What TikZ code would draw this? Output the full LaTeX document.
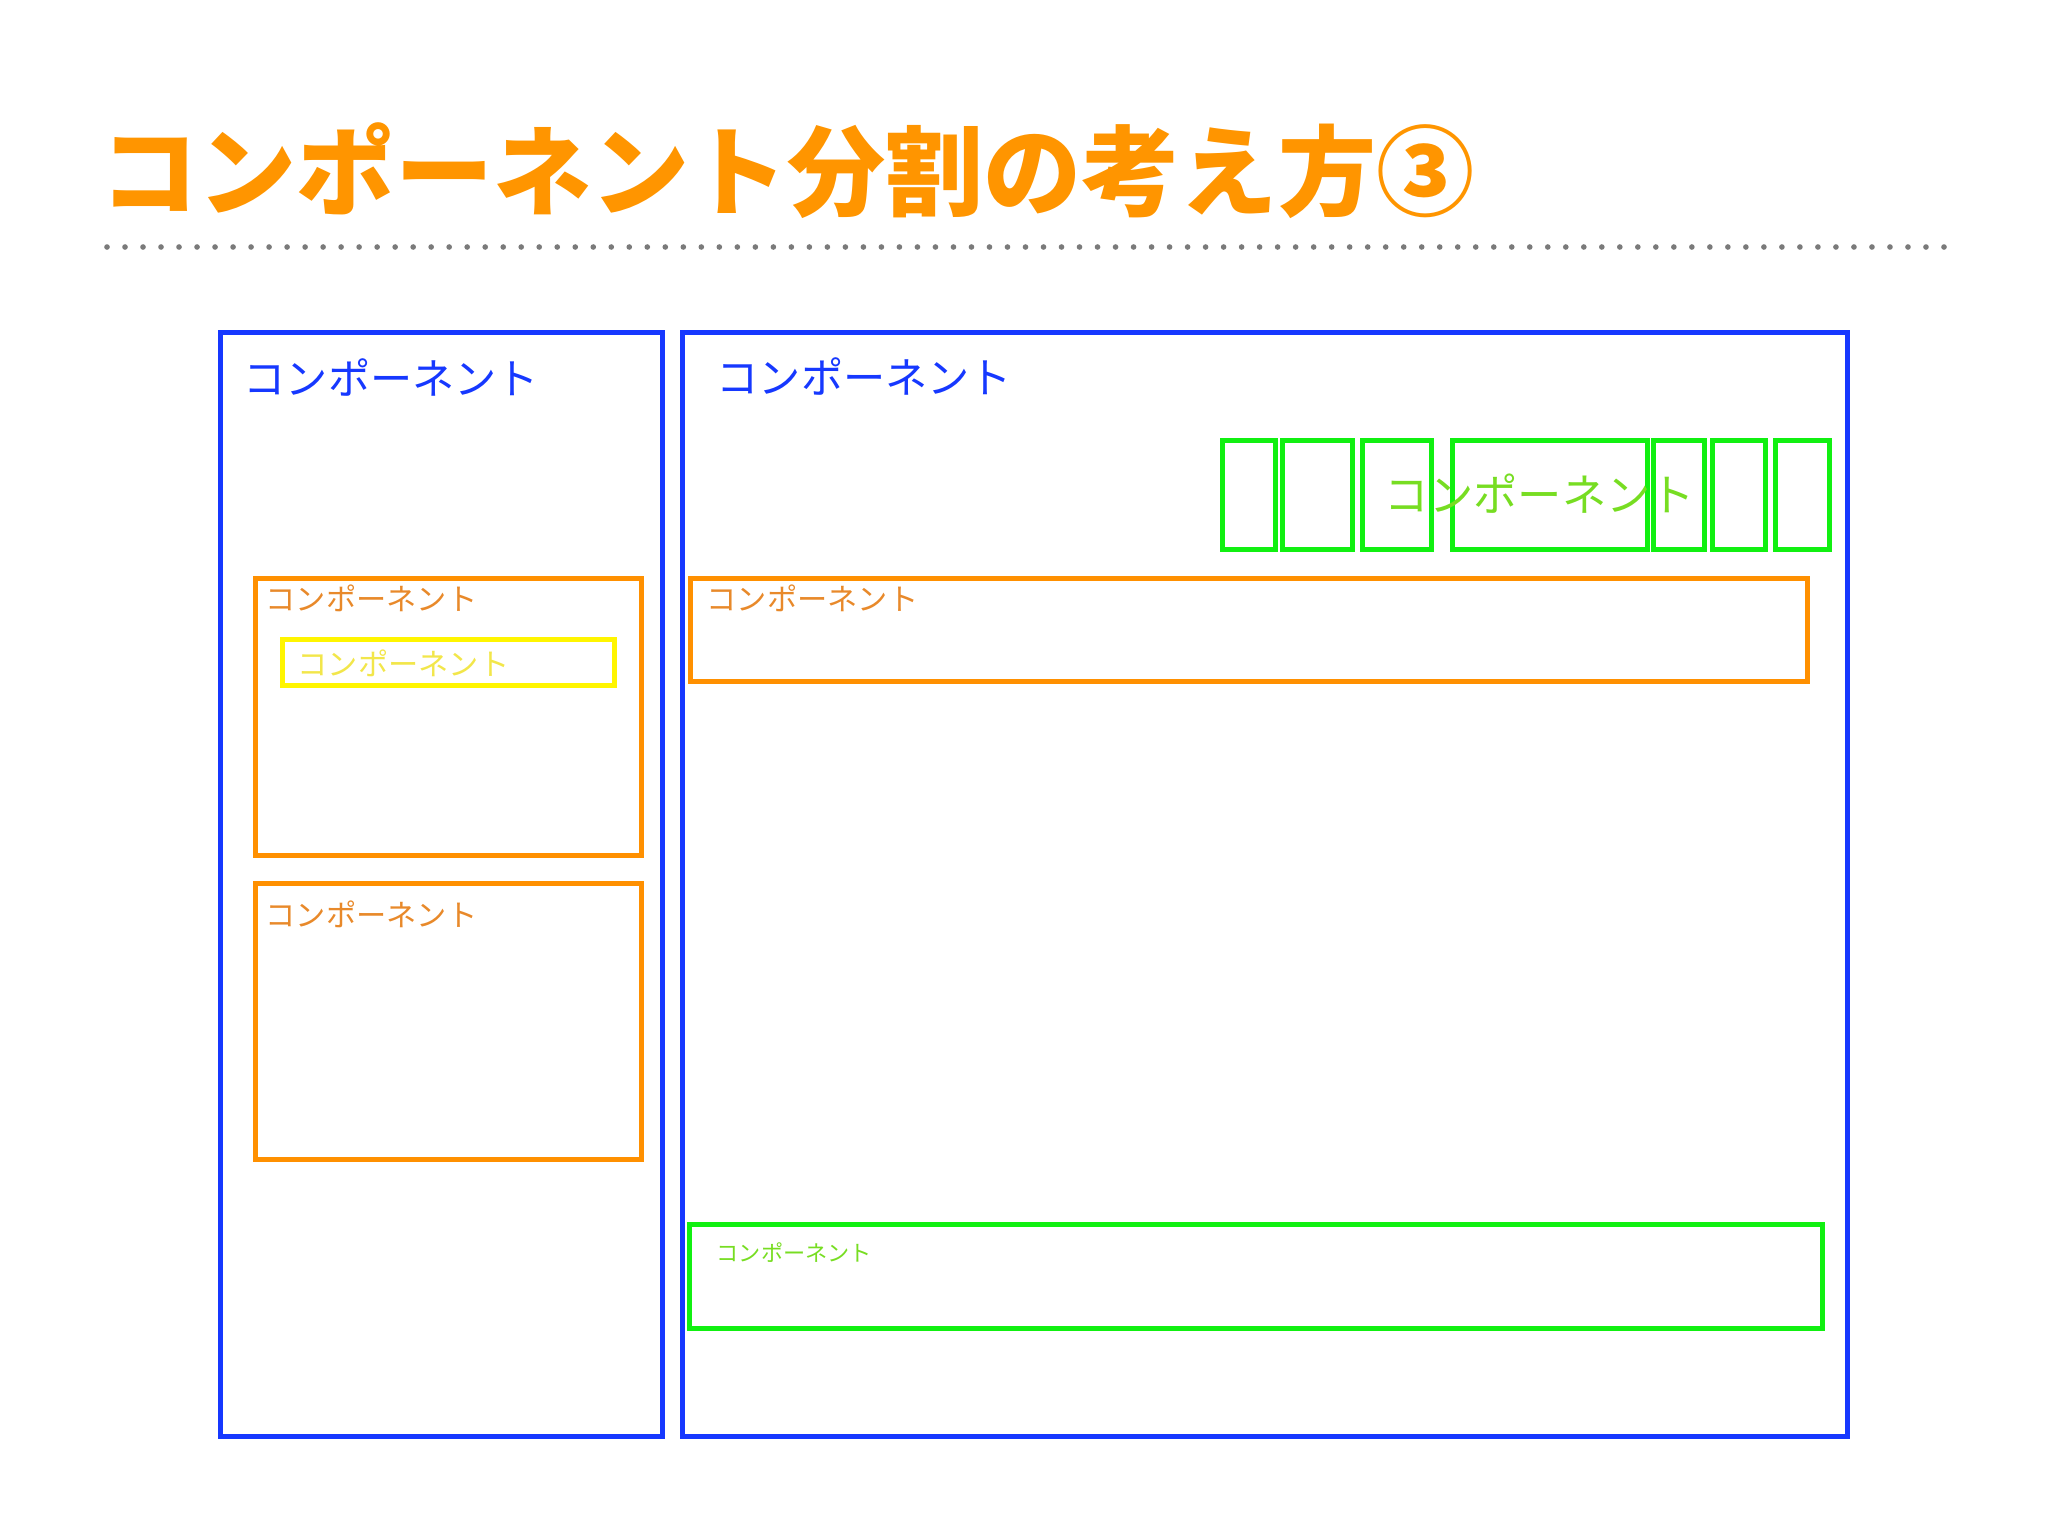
\documentclass[tikz,border=0pt]{standalone}
\usepackage{fontspec}
\newfontfamily\jpfont{Noto Sans CJK JP}
\definecolor{cblue}{HTML}{1638FF}
\definecolor{corange}{HTML}{FF9000}
\definecolor{ctitle}{HTML}{FF9500}
\definecolor{cotext}{HTML}{E8892A}
\definecolor{cyellow}{HTML}{FFF500}
\definecolor{cytext}{HTML}{F2E64A}
\definecolor{cgreen}{HTML}{11F011}
\definecolor{cgtext}{HTML}{77DD22}
\definecolor{cdots}{HTML}{7A7A7A}
\begin{document}
\begin{tikzpicture}[x=0.01cm, y=-0.01cm,
    every node/.style={font=\jpfont, inner sep=0pt},
    comp/.style={draw, line width=1.4pt, outer sep=0pt, anchor=north west},
    tofu/.style={comp, cgreen, minimum height=1.09cm},
    lbl/.style={anchor=west}]
\useasboundingbox (0,0) rectangle (2048,1536);
\node[lbl, ctitle, font=\jpfont\bfseries\fontsize{27.9}{30}\selectfont] (title) at (100,171) {コンポーネント分割の考え方③};
\coordinate (d1) at (107,247);
\coordinate (d2) at (1944,247);
\draw[cdots, line width=1.6pt, line cap=round, dash pattern=on 0pt off 0.18cm] (d1) -- (d2);
% outer components
\node[comp, cblue, minimum width=4.42cm, minimum height=11.03cm] (left) at (220.5,332.5) {};
\node[comp, cblue, minimum width=11.64cm, minimum height=11.03cm] (right) at (682.5,332.5) {};
\node[lbl, cblue, font=\jpfont\fontsize{12}{14}\selectfont] (lt) at (243,377) {コンポーネント};
\node[lbl, cblue, font=\jpfont\fontsize{12}{14}\selectfont] (rt) at (716,376) {コンポーネント};
% left column
\node[comp, corange, minimum width=3.86cm, minimum height=2.77cm] (o1) at (255.5,578.5) {};
\node[lbl, cotext, font=\jpfont\fontsize{8.6}{10}\selectfont] (o1t) at (265,598) {コンポーネント};
\node[comp, cyellow, minimum width=3.32cm, minimum height=0.46cm] (y1) at (282.5,639.5) {};
\node[lbl, cytext, font=\jpfont\fontsize{8.6}{10}\selectfont] (y1t) at (297,663) {コンポーネント};
\node[comp, corange, minimum width=3.86cm, minimum height=2.76cm] (o2) at (255.5,883.5) {};
\node[lbl, cotext, font=\jpfont\fontsize{8.6}{10}\selectfont] (o2t) at (265,914) {コンポーネント};
% right column
\foreach \n/\xa/\w in {1/1222.5/53, 2/1282.5/70, 3/1362.5/69, 4/1452.5/195, 5/1653.5/51, 6/1712.5/53, 7/1775.5/54}
  \node[tofu, minimum width=\w*0.01cm] (g\n) at (\xa,440.5) {};
\node[cgtext, font=\jpfont\fontsize{12.6}{14}\selectfont] (gt) at (1540,494) {コンポーネント};
\node[comp, corange, minimum width=11.16cm, minimum height=1.03cm] (o3) at (690.5,578.5) {};
\node[lbl, cotext, font=\jpfont\fontsize{8.6}{10}\selectfont] (o3t) at (706,598) {コンポーネント};
\node[comp, cgreen, minimum width=11.32cm, minimum height=1.04cm] (g8) at (689.5,1224.5) {};
\node[lbl, cgtext, font=\jpfont\fontsize{6.3}{8}\selectfont] (g8t) at (716,1253) {コンポーネント};
\end{tikzpicture}
\end{document}
